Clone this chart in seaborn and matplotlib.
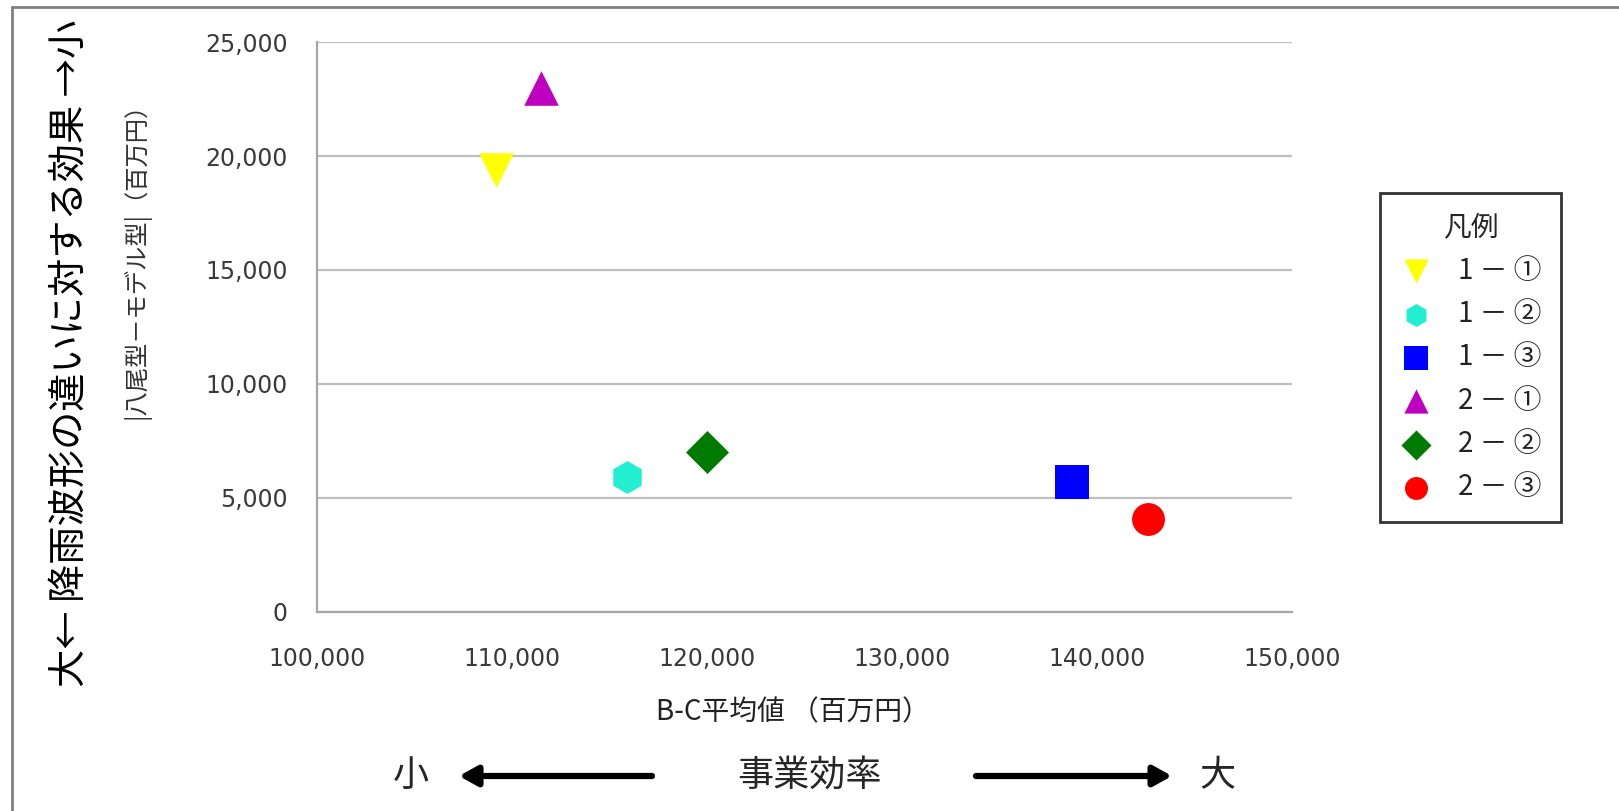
import matplotlib
matplotlib.use("Agg")
import matplotlib.pyplot as plt
import seaborn as sns
from matplotlib.ticker import StrMethodFormatter
from matplotlib.lines import Line2D
from matplotlib.patches import FancyArrowPatch

# --- data -------------------------------------------------------------
case_names = ["1 － ①", "1 － ②", "1 － ③", "2 － ①", "2 － ②", "2 － ③"]
bc_mean = [109200, 115900, 138700, 111500, 120000, 142600]        # B-C平均値（百万円）
wave_effect = [19400, 5900, 5700, 23000, 7000, 4100]              # |八尾型－モデル型|（百万円）
x_ticks = [100000, 110000, 120000, 130000, 140000, 150000]
y_ticks = [0, 5000, 10000, 15000, 20000, 25000]

# --- styles -----------------------------------------------------------
case_markers = ["v", "h", "s", "^", "D", "o"]
case_colors = ["#FFFF00", "#22EED2", "#0000FF", "#C000C0", "#007A00", "#FF0000"]
case_sizes = [620, 560, 580, 620, 480, 560]

sns.set_theme(style="white")
plt.rcParams["font.family"] = ["DejaVu Sans", "Noto Sans CJK JP"]
JP = ["Noto Sans CJK JP", "DejaVu Sans"]
GRAY = "#A6A6A6"
TXT = "#3A3A3A"

fig = plt.figure(figsize=(16.19, 8.11), dpi=100)
ax = fig.add_axes([0.1958, 0.2454, 0.6022, 0.7028])

for name, x, y, m, c, s in zip(case_names, bc_mean, wave_effect,
                               case_markers, case_colors, case_sizes):
    sns.scatterplot(x=[x], y=[y], marker=m, color=c, s=s, linewidth=0,
                    label=name, ax=ax, zorder=3)

ax.set_xlim(x_ticks[0], x_ticks[-1])
ax.set_ylim(y_ticks[0], y_ticks[-1])
ax.set_xticks(x_ticks)
ax.set_yticks(y_ticks)
ax.xaxis.set_major_formatter(StrMethodFormatter("{x:,.0f}"))
ax.yaxis.set_major_formatter(StrMethodFormatter("{x:,.0f}"))
ax.grid(axis="y", color="#BFBFBF", linewidth=1.6, zorder=0)
ax.grid(axis="x", visible=False)
for side in ("top", "right"):
    ax.spines[side].set_visible(False)
for side in ("left", "bottom"):
    ax.spines[side].set_color(GRAY)
    ax.spines[side].set_linewidth(1.6)
ax.tick_params(axis="both", which="major", direction="out", length=8,
               width=1.4, color=GRAY, labelsize=17, labelcolor=TXT, pad=13)
ax.tick_params(axis="x", pad=17)
ax.set_xlabel("")
ax.set_ylabel("")

# axis titles
fig.text(0.490, 0.122, "B-C平均値 （百万円）", family=JP, fontsize=20,
         color="#222222", ha="center", va="center")
fig.text(0.0846, 0.686, "|八尾型－モデル型|（百万円）", family=JP, fontsize=17.5,
         color="#333333", ha="center", va="center", rotation=90)
fig.text(0.043, 0.564, "大← 降雨波形の違いに対する効果 →小", family=JP,
         fontsize=27.5, color="black", ha="center", va="center", rotation=90)

# efficiency direction under the x axis
yb = 1 - 776 / 811
fig.text(411 / 1619, yb, "小", family=JP, fontsize=26, ha="center", va="center")
fig.text(809 / 1619, yb, "事業効率", family=JP, fontsize=26, ha="center", va="center")
fig.text(1218 / 1619, yb, "大", family=JP, fontsize=26, ha="center", va="center")
arrow_kw = dict(arrowstyle="-|>,head_length=0.9,head_width=0.5", color="black",
                lw=4.5, shrinkA=0, shrinkB=0, mutation_scale=12)
fig.add_artist(FancyArrowPatch((652 / 1619, yb), (459 / 1619, yb),
                               transform=fig.transFigure, **arrow_kw))
fig.add_artist(FancyArrowPatch((976 / 1619, yb), (1172 / 1619, yb),
                               transform=fig.transFigure, **arrow_kw))

# legend
leg = ax.legend(loc="upper left", bbox_to_anchor=(1380 / 1619, 1 - 193 / 811),
                bbox_transform=fig.transFigure, borderaxespad=0, frameon=True,
                fancybox=False, edgecolor="black", title="凡例",
                prop={"family": JP, "size": 20},
                title_fontproperties={"family": JP, "size": 20},
                markerscale=0.7, labelspacing=0.48, handletextpad=0.9,
                borderpad=0.7, handlelength=1.2)
leg.get_frame().set_linewidth(2)
for t in leg.get_texts():
    t.set_color("#222222")

# outer frame
fig.add_artist(Line2D([12 / 1619, 12 / 1619], [0, 1 - 7 / 811],
                      transform=fig.transFigure, color="#808080", lw=2))
fig.add_artist(Line2D([12 / 1619, 1], [1 - 7 / 811, 1 - 7 / 811],
                      transform=fig.transFigure, color="#808080", lw=2))

fig.savefig("out.png", dpi=100, facecolor="white")
